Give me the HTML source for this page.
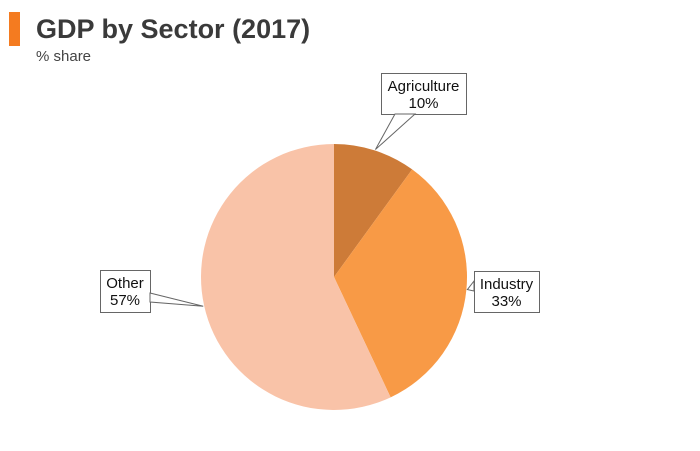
<!DOCTYPE html>
<html><head><meta charset="utf-8"><style>
body{margin:0;background:#fff;font-family:"Liberation Sans",Arial,sans-serif;}
#wrap{position:relative;width:700px;height:451px;overflow:hidden;}
</style></head><body>
<div id="wrap">
<div style="position:absolute;left:9px;top:12px;width:11px;height:34px;background:#F47B20"></div>
<div style="position:absolute;left:36px;top:12px;font-size:27px;font-weight:bold;color:#3a3a3a;line-height:34px">GDP by Sector (2017)</div>
<div style="position:absolute;left:36px;top:48px;font-size:15px;color:#444">% share</div>
<svg id="svg" width="700" height="451" style="position:absolute;left:0;top:0"></svg>
</div>
<script>
const categories=["Agriculture","Industry","Other"];
const values=[10,33,57];
const colors=["#CD7B38","#F89A46","#F9C3A8"];
const cx=334,cy=277,r=133;
const ns="http://www.w3.org/2000/svg";
const svg=document.getElementById('svg');
const total=values.reduce((a,b)=>a+b,0);
function pt(a,rad){return [cx+rad*Math.sin(a),cy-rad*Math.cos(a)];}
let a0=0;
const mids=[];
values.forEach((v,i)=>{
  const a1=a0+v/total*2*Math.PI;
  const p0=pt(a0,r),p1=pt(a1,r);
  const large=(a1-a0)>Math.PI?1:0;
  const p=document.createElementNS(ns,'path');
  p.setAttribute('d',`M${cx},${cy}L${p0[0]},${p0[1]}A${r},${r} 0 ${large} 1 ${p1[0]},${p1[1]}Z`);
  p.setAttribute('fill',colors[i]);
  
  
  svg.appendChild(p);
  mids.push((a0+a1)/2);
  a0=a1;
});
// label boxes
const boxes=[[381,73,85,41],[474,271,65,41],[100,270,50,42]];
const anchors=[[[395,114],[415,114]],[[474,281],[474,291]],[[150,293],[150,302]]];
values.forEach((v,i)=>{
  const g=document.createElementNS(ns,'g');
  
  
  const tip=pt(mids[i],r+1);
  const [bx,by,bw,bh]=boxes[i];
  const rect=document.createElementNS(ns,'rect');
  rect.setAttribute('x',bx+.5);rect.setAttribute('y',by+.5);
  rect.setAttribute('width',bw);rect.setAttribute('height',bh);
  rect.setAttribute('fill','#fff');rect.setAttribute('stroke','#666');
  g.appendChild(rect);
  const an=anchors[i];
  const poly=document.createElementNS(ns,'polygon');
  poly.setAttribute('points',`${an[0][0]},${an[0][1]} ${tip[0]},${tip[1]} ${an[1][0]},${an[1][1]}`);
  poly.setAttribute('fill','#fff');poly.setAttribute('stroke','#666');
  g.appendChild(poly);
  const t1=document.createElementNS(ns,'text');
  t1.setAttribute('x',bx+bw/2);t1.setAttribute('y',by+18);
  t1.setAttribute('text-anchor','middle');t1.setAttribute('font-size','15');t1.setAttribute('fill','#111');
  t1.textContent=categories[i];g.appendChild(t1);
  const t2=document.createElementNS(ns,'text');
  t2.setAttribute('x',bx+bw/2);t2.setAttribute('y',by+35);
  t2.setAttribute('text-anchor','middle');t2.setAttribute('font-size','15');t2.setAttribute('fill','#111');
  t2.textContent=v+'%';g.appendChild(t2);
  svg.appendChild(g);
});
</script>
</body></html>
